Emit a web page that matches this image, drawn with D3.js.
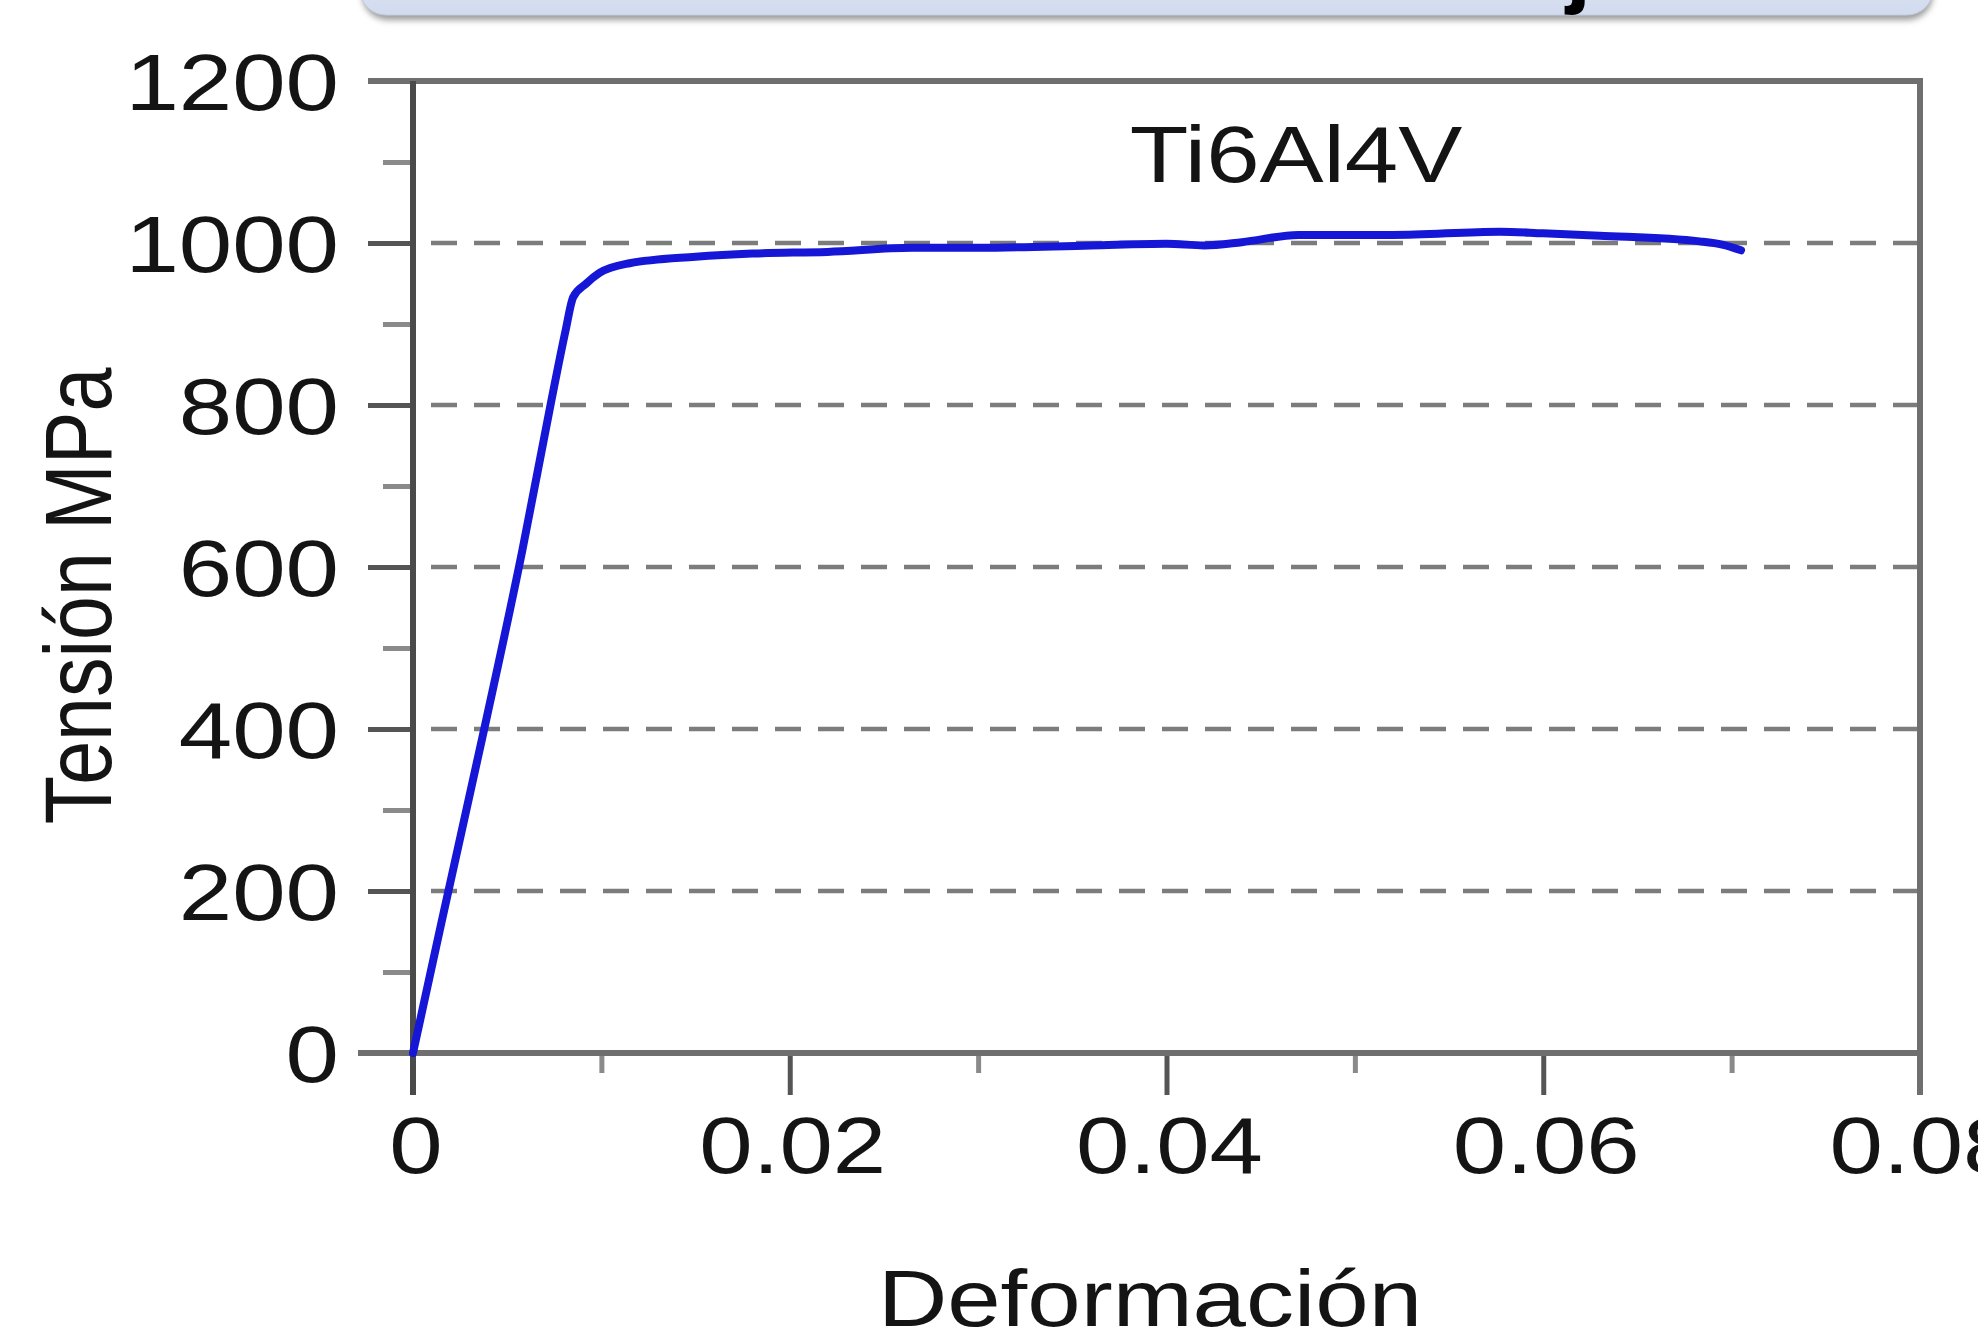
<!DOCTYPE html>
<html>
<head>
<meta charset="utf-8">
<script src="https://cdn.jsdelivr.net/npm/d3@7"></script>
<style>
  html, body { margin: 0; padding: 0; background: #fff; }
  svg { display: block; }
  text { font-family: "Liberation Sans", Arial, sans-serif; fill: #141414; }
</style>
</head>
<body>
<div id="chart"></div>
<script>
// strain (Deformación) and stress (Tensión MPa)
const strain = [0, 0.0015, 0.0038, 0.0058, 0.0073, 0.0081, 0.0085, 0.0092, 0.0099, 0.0115, 0.015, 0.018, 0.022, 0.0265, 0.03, 0.036, 0.040, 0.042, 0.044, 0.047, 0.052, 0.0577, 0.060, 0.063, 0.0683, 0.0695, 0.0705];
const stress = [0, 160, 402, 620, 800, 892, 933, 950, 963, 975, 983, 987, 989, 994, 994, 997, 999, 997, 1001, 1010, 1010, 1014, 1012, 1009, 1002, 998, 991];

const xMajor = [0, 0.02, 0.04, 0.06, 0.08];
const xMinor = [0.01, 0.03, 0.05, 0.07];
const xLabels = ['0', '0.02', '0.04', '0.06', '0.08'];
const yMajor = [0, 200, 400, 600, 800, 1000, 1200];
const yMinor = [100, 300, 500, 700, 900, 1100];
const yGrid = [200, 400, 600, 800, 1000];

const W = 1978, H = 1331;
const SX = 1.2; // the original picture is stretched sideways

const svg = d3.select('#chart').append('svg')
    .attr('width', W)
    .attr('height', H);

const x = d3.scaleLinear().domain([0, 0.08]).range([413, 1920]);
const y = d3.scaleLinear().domain([0, 1200]).range([1053, 81]);

// cut-off title banner at the top
const defs = svg.append('defs');
const grad = defs.append('linearGradient').attr('id', 'banner').attr('x1', 0).attr('y1', 0).attr('x2', 0).attr('y2', 1);
grad.append('stop').attr('offset', '0%').attr('stop-color', '#e3e9f5');
grad.append('stop').attr('offset', '100%').attr('stop-color', '#d2dbee');
const blur = defs.append('filter').attr('id', 'shadow').attr('x', '-5%').attr('y', '-50%').attr('width', '110%').attr('height', '300%');
blur.append('feGaussianBlur').attr('stdDeviation', 3);

svg.append('rect')
    .attr('x', 362).attr('y', -60).attr('width', 1571).attr('height', 80)
    .attr('rx', 26)
    .attr('fill', '#9a9a9a')
    .attr('filter', 'url(#shadow)');
svg.append('rect')
    .attr('x', 360).attr('y', -60).attr('width', 1573).attr('height', 75)
    .attr('rx', 26)
    .attr('fill', 'url(#banner)')
    .attr('stroke', '#c3cde2')
    .attr('stroke-width', 1);
svg.append('text')
    .attr('x', 1566).attr('y', -4)
    .style('font-size', '90px')
    .style('font-weight', 'bold')
    .style('fill', '#000')
    .text('j');

// dashed grid lines
svg.append('g')
    .selectAll('line')
    .data(yGrid)
    .enter()
    .append('line')
    .attr('x1', x(0) + 18).attr('x2', x(0.08))
    .attr('y1', d => y(d)).attr('y2', d => y(d))
    .attr('stroke', '#7c7c7c')
    .attr('stroke-width', 4.5)
    .attr('stroke-dasharray', '26,17');

// y axis ticks (major longer than minor)
const yAxisMajor = d3.axisLeft(y).tickValues(yMajor).tickSize(45).tickFormat('');
const yAxisMinor = d3.axisLeft(y).tickValues(yMinor).tickSize(30).tickFormat('');
[yAxisMinor, yAxisMajor].forEach((ax, i) => {
    const g = svg.append('g')
        .attr('transform', `translate(${x(0)},0)`)
        .call(ax);
    g.select('.domain').remove();
    g.selectAll('line')
        .attr('stroke', i ? '#555' : '#8a8a8a')
        .attr('stroke-width', 5);
});

// x axis ticks
const xAxisMajor = d3.axisBottom(x).tickValues(xMajor).tickSize(42).tickFormat('');
const xAxisMinor = d3.axisBottom(x).tickValues(xMinor).tickSize(20).tickFormat('');
[xAxisMinor, xAxisMajor].forEach((ax, i) => {
    const g = svg.append('g')
        .attr('transform', `translate(0,${y(0)})`)
        .call(ax);
    g.select('.domain').remove();
    g.selectAll('line')
        .attr('stroke', i ? '#555' : '#8a8a8a')
        .attr('stroke-width', 5);
});

// frame: axis lines plus top and right borders
const frame = svg.append('g').attr('stroke', '#6f6f6f').attr('stroke-width', 6);
frame.append('line').attr('x1', x(0) - 55).attr('x2', x(0.08) + 3).attr('y1', y(0)).attr('y2', y(0));
frame.append('line').attr('x1', x(0) - 45).attr('x2', x(0.08) + 3).attr('y1', y(1200)).attr('y2', y(1200));
frame.append('line').attr('x1', x(0)).attr('x2', x(0)).attr('y1', y(1200)).attr('y2', y(0) + 42).attr('stroke', '#4a4a4a');
frame.append('line').attr('x1', x(0.08)).attr('x2', x(0.08)).attr('y1', y(1200)).attr('y2', y(0) + 42);

// curve
const line = d3.line()
    .x((d, i) => x(strain[i]))
    .y((d, i) => y(stress[i]))
    .curve(d3.curveMonotoneX);

svg.append('path')
    .datum(stress)
    .attr('d', line)
    .attr('fill', 'none')
    .attr('stroke', '#1616d6')
    .attr('stroke-width', 8)
    .attr('stroke-linejoin', 'round')
    .attr('stroke-linecap', 'round');

// tick labels
svg.append('g')
    .selectAll('text')
    .data(yMajor)
    .enter()
    .append('text')
    .attr('transform', d => `translate(${x(0) - 74},${y(d) + 29}) scale(${SX},1)`)
    .attr('text-anchor', 'end')
    .style('font-size', '80px')
    .text(d => d);

svg.append('g')
    .selectAll('text')
    .data(xMajor)
    .enter()
    .append('text')
    .attr('transform', d => `translate(${x(d) + 3},${y(0) + 120}) scale(${SX},1)`)
    .attr('text-anchor', 'middle')
    .style('font-size', '80px')
    .text((d, i) => xLabels[i]);

// series label inside the plot
svg.append('text')
    .attr('transform', `translate(1296,182) scale(${SX},1)`)
    .attr('text-anchor', 'middle')
    .style('font-size', '80px')
    .text('Ti6Al4V');

// axis titles
svg.append('text')
    .attr('transform', `translate(1150,1326) scale(${SX},1)`)
    .attr('text-anchor', 'middle')
    .style('font-size', '80px')
    .text('Deformación');

svg.append('text')
    .attr('transform', `translate(111,596) scale(${SX},1) rotate(-90)`)
    .attr('text-anchor', 'middle')
    .style('font-size', '79px')
    .text('Tensión MPa');
</script>
</body>
</html>
